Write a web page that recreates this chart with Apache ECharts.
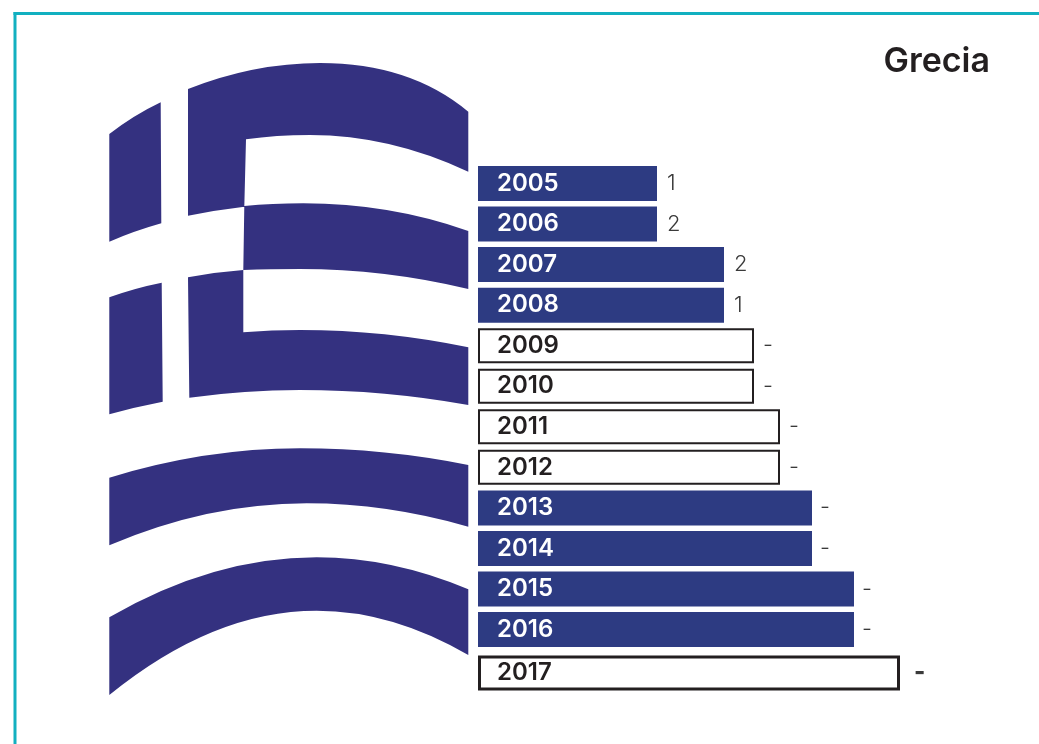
<!DOCTYPE html>
<html>
<head>
<meta charset="utf-8">
<style>html,body{margin:0;padding:0;background:#fff}#c{width:1039px;height:744px}</style>
<script src="https://cdn.jsdelivr.net/npm/echarts@6/dist/echarts.min.js"></script>
</head>
<body>
<div id="c"></div>
<script>
const chartTitle = 'Grecia';
const years = ['2005','2006','2007','2008','2009','2010','2011','2012','2013','2014','2015','2016','2017'];
const barLengths = [179,179,246,246,277,277,303,303,334,334,376,376,423];
const valueLabels = ['1','2','2','1','-','-','-','-','-','-','-','-','-'];
const outlined = [0,0,0,0,1,1,1,1,0,0,0,0,1];

const FONT = 'Inter';
const BLUE = '#2d3b82';
const FLAG = '#343180';
const TEAL = '#12b0c0';
const INK = '#231f20';

// Decorative waving flag (not data)
const flagPath = [
 'M109.3 134 Q134 115 160.7 102.3 L161.3 223.3 Q134 231 109.3 241.7 Z',
 'M188 89 Q254 63 320 63 Q410 63 468.3 111.7 L468.3 171.7 Q390 135 310 135 Q276 135 246 139.3 L244.3 206.7 Q216 210 188 215.7 Z',
 'M244.3 206 Q272 203.3 303.3 203.3 Q390 203.3 468.3 231 L468.3 289 Q385 269 300 269 Q270 269 243.3 270 Z',
 'M109.3 297.3 Q135 288 161.7 282.7 L162.7 401.7 Q135 407 109.3 414.3 Z',
 'M188 277.3 Q216 272 243.3 270 L243.3 332.3 Q272 330 300 330 Q385 330 468.3 347.3 L468.3 405 Q385 390 300 390 Q245 390 189.3 397.7 Z',
 'M109.3 477.7 Q205 448.3 300 448.3 Q385 448.3 468.3 465 L468.3 526.7 Q387 503.3 306.7 503.3 Q208 503.3 109.3 545.3 Z',
 'M109.3 617.3 Q213 557.3 316.7 557.3 Q392 557.3 468.3 589.3 L468.3 655 Q392 610.7 316.7 610.7 Q213 610.7 109.3 695 Z'
].join(' ');

function barItem(i) {
  const o = outlined[i];
  const last = i === years.length - 1;
  return {
    value: barLengths[i] - (o ? 1 : 0),
    itemStyle: o
      ? { color: '#fff', borderColor: INK, borderWidth: last ? 3 : 2 }
      : { color: BLUE }
  };
}
function yearLabel(i) {
  return {
    show: true, position: 'insideLeft', distance: 19,
    formatter: years[i], fontFamily: FONT, fontSize: 24, fontWeight: 600,
    color: outlined[i] ? INK : '#fff'
  };
}
function valueItem(i) {
  const last = i === years.length - 1;
  return {
    value: barLengths[i],
    label: {
      show: true, position: 'right', distance: valueLabels[i] === '-' ? (last ? 13 : 8) : 10,
      formatter: valueLabels[i], fontFamily: FONT,
      fontSize: last ? 24 : 22, fontWeight: last ? 800 : 300, color: '#3a3a3a'
    }
  };
}
const idx = years.map((_, i) => i);
const headIdx = idx.slice(0, 12), tailIdx = idx.slice(12);

function seriesFor(ids, axisIndex) {
  return [{
    type: 'bar', xAxisIndex: axisIndex, yAxisIndex: axisIndex, barWidth: 35, barGap: '-100%',
    animation: false, silent: true,
    data: ids.map(i => Object.assign(barItem(i), { label: yearLabel(i) }))
  }, {
    type: 'bar', xAxisIndex: axisIndex, yAxisIndex: axisIndex, barWidth: 35, barGap: '-100%',
    animation: false, silent: true, itemStyle: { color: 'rgba(0,0,0,0)' },
    data: ids.map(valueItem)
  }];
}
const flagSeries = {
  type: 'custom', coordinateSystem: 'none', silent: true, animation: false, z: 1,
  data: [0],
  renderItem: function () {
    return {
      type: 'path',
      shape: { pathData: flagPath, layout: 'cover', x: 109.3, y: 63, width: 359, height: 632 },
      style: { fill: FLAG }
    };
  }
};

const chart = echarts.init(document.getElementById('c'), null, { renderer: 'canvas' });
chart.setOption({
  backgroundColor: '#fff',
  animation: false,
  title: {
    text: chartTitle, right: 44, top: 40,
    textStyle: { fontFamily: FONT, fontSize: 34, fontWeight: 600, color: INK }
  },
  grid: [
    { left: 478, right: 0, top: 163.2, height: 486.6 },
    { left: 478, right: 0, top: 653, height: 40 }
  ],
  xAxis: [
    { type: 'value', gridIndex: 0, min: 0, max: 561, show: false },
    { type: 'value', gridIndex: 1, min: 0, max: 561, show: false }
  ],
  yAxis: [
    { type: 'category', gridIndex: 0, inverse: true, data: headIdx.map(i => years[i]), show: false },
    { type: 'category', gridIndex: 1, inverse: true, data: tailIdx.map(i => years[i]), show: false }
  ],
  series: [flagSeries].concat(seriesFor(headIdx, 0), seriesFor(tailIdx, 1)),
  graphic: [
    { type: 'line', silent: true, shape: { x1: 13.5, y1: 13.5, x2: 1039, y2: 13.5 }, style: { stroke: TEAL, lineWidth: 3 } },
    { type: 'line', silent: true, shape: { x1: 15, y1: 12, x2: 15, y2: 744 }, style: { stroke: TEAL, lineWidth: 3 } }
  ]
});
</script>
</body>
</html>
